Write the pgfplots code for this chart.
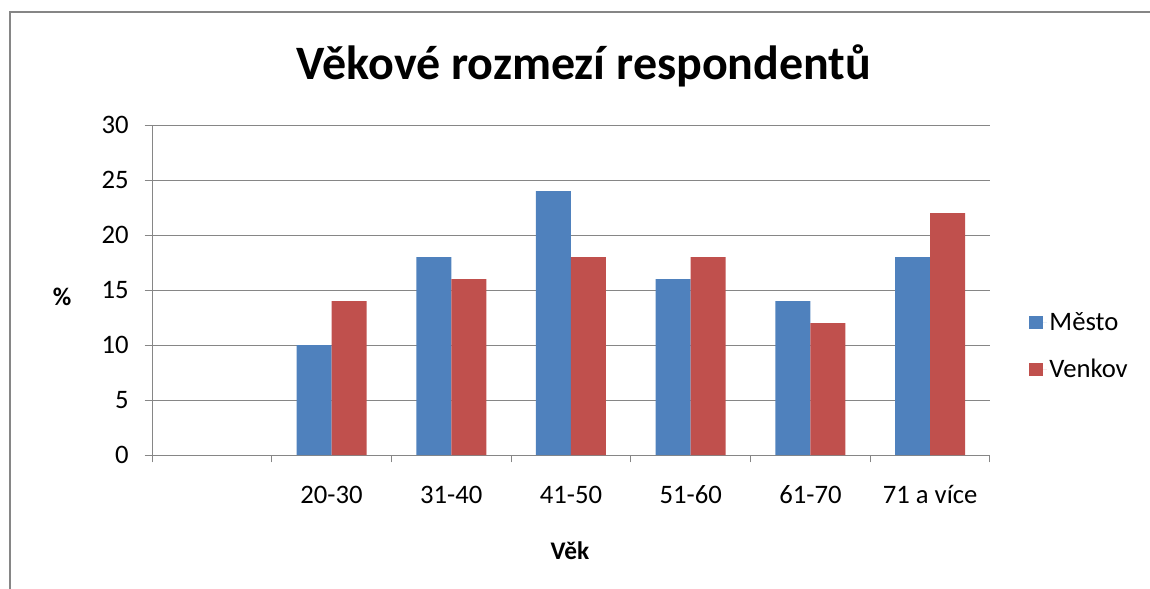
\documentclass[border=0pt]{standalone}
\usepackage{fontspec}
\setmainfont{Carlito}
\usepackage{pgfplots}
\pgfplotsset{compat=1.18}
\definecolor{mesto}{HTML}{4F81BD}
\definecolor{venkov}{HTML}{C0504D}
\definecolor{gridc}{HTML}{868686}
\begin{document}
\begin{tikzpicture}
\useasboundingbox (0,0) rectangle (862.5pt,-441.75pt);
\begin{scope}
\clip (0,0) rectangle (862.5pt,-441.75pt);
\draw[color=gridc, line width=1.5pt] (7.5pt,-460pt) -- (7.5pt,-9pt) -- (880pt,-9pt);
\end{scope}
\node[font=\fontsize{36}{42}\selectfont\bfseries] at (438pt,-49.5pt) {Věkové rozmezí respondentů};
\node[font=\fontsize{19}{22}\selectfont\bfseries] at (46.5pt,-222.75pt) {\%};
\node[font=\fontsize{19}{22}\selectfont\bfseries] at (427.5pt,-413.25pt) {Věk};
\begin{axis}[at={(114pt,-341.25pt)}, anchor=south west, scale only axis,
  width=628.5pt, height=247.5pt,
  ymin=0, ymax=30, ytick={0,5,...,30},
  xmin=-0.5, xmax=6.5,
  xtick={-0.5,0.5,...,6.5}, x tick label as interval,
  xticklabels={{},20-30,31-40,41-50,51-60,61-70,71 a více},
  axis lines*=left,
  ymajorgrids, grid style={gridc, line width=0.75pt},
  axis line style={gridc, line width=0.75pt},
  tick style={gridc, line width=0.75pt},
  tick align=outside, major tick length=5.5pt,
  /pgf/number format/assume math mode=true,
  ticklabel style={font=\fontsize{20}{23}\selectfont, text=black},
  xticklabel style={yshift=-14pt},
  yticklabel style={xshift=-8.5pt},
  ybar=0pt, bar width=26.25pt,
  legend style={at={(1.042,0.33)}, anchor=west, draw=none, fill=none,
    font=\fontsize{20}{23}\selectfont, row sep=16pt},
  legend cell align=left,
  legend image code/.code={\path (0pt,0pt) -- (13pt,0pt);\fill[#1] (0pt,-5pt) rectangle (10pt,5pt);},
]
\addplot[fill=mesto, draw=none] coordinates {(1,10) (2,18) (3,24) (4,16) (5,14) (6,18)};
\addplot[fill=venkov, draw=none] coordinates {(1,14) (2,16) (3,18) (4,18) (5,12) (6,22)};
\legend{Město,Venkov}
\end{axis}
\end{tikzpicture}
\end{document}
